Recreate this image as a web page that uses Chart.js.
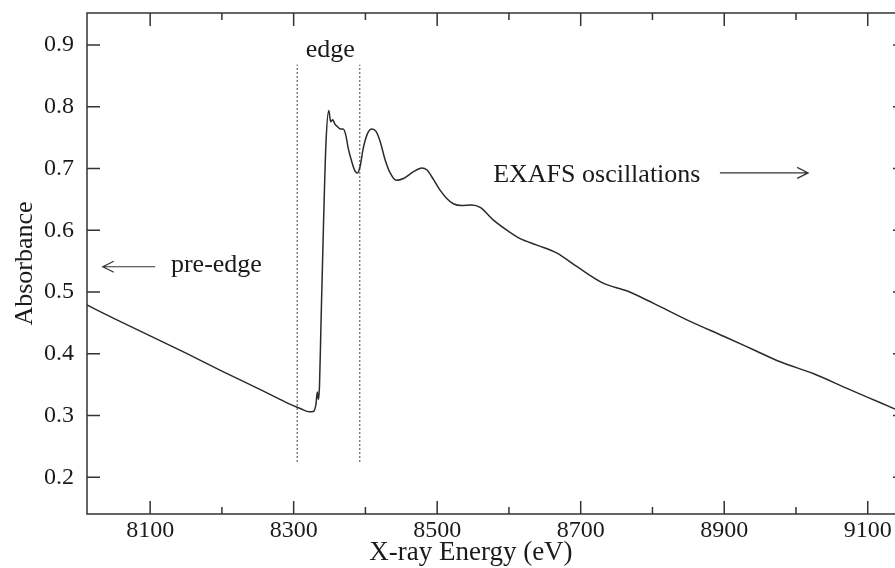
<!DOCTYPE html>
<html>
<head>
<meta charset="utf-8">
<title>X-ray absorption spectrum</title>
<script src="https://cdn.jsdelivr.net/npm/chart.js@4.4.0/dist/chart.umd.min.js"></script>
<style>
  html, body { margin: 0; padding: 0; background: #fff; }
  #wrap { width: 895px; height: 568px; }
</style>
</head>
<body>
<div id="wrap"><canvas id="xasChart" width="895" height="568"></canvas></div>
<script>
// spectrum (eV, absorbance)
const energy = [
    8012, 8050, 8100, 8150, 8200, 8250, 8290, 8310, 8322, 8328,
    8331, 8333, 8334.5, 8336, 8338, 8341.5, 8345, 8349, 8351.5, 8354.5,
    8357.5, 8362, 8365, 8369, 8372.5, 8376, 8381, 8385.5, 8389, 8392.5,
    8397, 8403, 8409, 8415, 8420.5, 8427.5, 8434.5, 8443, 8453, 8467,
    8478.5, 8485.5, 8495, 8504, 8513, 8522.5, 8534, 8548, 8560, 8578,
    8600, 8615, 8639, 8667, 8695, 8732, 8764, 8801, 8848, 8900,
    8940, 8978, 9024, 9071, 9117, 9153
];
const absorbance = [
    0.479, 0.457, 0.429, 0.401, 0.372, 0.344, 0.321, 0.311, 0.306, 0.307,
    0.318, 0.338, 0.326, 0.348, 0.444, 0.606, 0.741, 0.794, 0.776, 0.779,
    0.772, 0.767, 0.764, 0.764, 0.755, 0.733, 0.711, 0.696, 0.693, 0.703,
    0.733, 0.757, 0.764, 0.760, 0.744, 0.714, 0.693, 0.681, 0.684, 0.695,
    0.701, 0.698, 0.682, 0.665, 0.652, 0.643, 0.640, 0.641, 0.637, 0.617,
    0.598, 0.587, 0.576, 0.563, 0.541, 0.514, 0.502, 0.482, 0.455, 0.428,
    0.407, 0.387, 0.368, 0.344, 0.321, 0.303
];

const xTicks = [8100, 8200, 8300, 8400, 8500, 8600, 8700, 8800, 8900, 9000, 9100];
const xLabels = [8100, 8300, 8500, 8700, 8900, 9100];
const yTicks = [0.2, 0.3, 0.4, 0.5, 0.6, 0.7, 0.8, 0.9];

// dotted markers around the edge region
const edgeLines = [8305, 8392];
const edgeSpan = [0.225, 0.868];

const SERIF = "'Liberation Serif', 'Times New Roman', serif";

const spectrum = energy.map((e, i) => ({ x: e, y: absorbance[i] }));

function edgeDataset(e) {
    return {
        data: edgeSpan.map(v => ({ x: e, y: v })),
        borderColor: '#555',
        borderWidth: 1.5,
        borderDash: [1.5, 2.5],
        pointRadius: 0
    };
}

function arrow(ctx, x1, x2, y) {
    // shaft from x1 to x2, open head at x2
    const dir = x2 > x1 ? 1 : -1;
    ctx.beginPath();
    ctx.moveTo(x1, y);
    ctx.lineTo(x2, y);
    ctx.moveTo(x2 - dir * 11, y - 5.5);
    ctx.lineTo(x2, y);
    ctx.lineTo(x2 - dir * 11, y + 5.5);
    ctx.stroke();
}

const framePlugin = {
    id: 'frame',
    afterDraw(chart) {
        const ctx = chart.ctx;
        const a = chart.chartArea;
        const xs = chart.scales.x;
        const ys = chart.scales.y;
        const rightAxis = a.right + 11;

        ctx.save();
        ctx.strokeStyle = '#333';
        ctx.lineWidth = 1.5;
        ctx.beginPath();
        ctx.moveTo(rightAxis, a.top);
        ctx.lineTo(a.left, a.top);
        ctx.lineTo(a.left, a.bottom);
        ctx.lineTo(rightAxis, a.bottom);
        ctx.stroke();

        ctx.beginPath();
        xTicks.forEach(v => {
            const px = xs.getPixelForValue(v);
            const len = xLabels.includes(v) ? 13 : 7;
            ctx.moveTo(px, a.bottom);
            ctx.lineTo(px, a.bottom - len);
            ctx.moveTo(px, a.top);
            ctx.lineTo(px, a.top + len);
        });
        yTicks.forEach(v => {
            const py = ys.getPixelForValue(v);
            ctx.moveTo(a.left, py);
            ctx.lineTo(a.left + 13, py);
            ctx.moveTo(rightAxis, py);
            ctx.lineTo(rightAxis - 13, py);
        });
        ctx.stroke();

        // annotations
        ctx.fillStyle = '#1a1a1a';
        ctx.font = '26px ' + SERIF;
        ctx.textBaseline = 'middle';

        ctx.textAlign = 'left';
        ctx.fillText('pre-edge', xs.getPixelForValue(8129), ys.getPixelForValue(0.544));
        ctx.fillText('EXAFS oscillations', xs.getPixelForValue(8578), ys.getPixelForValue(0.690));
        ctx.textAlign = 'center';
        ctx.fillText('edge', xs.getPixelForValue(8351), ys.getPixelForValue(0.892));

        ctx.lineWidth = 1.2;
        arrow(ctx, xs.getPixelForValue(8107), xs.getPixelForValue(8034), ys.getPixelForValue(0.541));
        arrow(ctx, xs.getPixelForValue(8894), xs.getPixelForValue(9017), ys.getPixelForValue(0.693));

        // x axis title
        ctx.font = '27px ' + SERIF;
        ctx.textAlign = 'center';
        ctx.fillText('X-ray Energy (eV)', xs.getPixelForValue(8547), chart.height - 15);
        ctx.restore();
    }
};

const ctx = document.getElementById('xasChart').getContext('2d');
const xasChart = new Chart(ctx, {
    type: 'line',
    data: {
        datasets: [
            {
                data: spectrum,
                borderColor: '#2b2b2b',
                borderWidth: 1.5,
                pointRadius: 0,
                cubicInterpolationMode: 'monotone'
            },
            edgeDataset(edgeLines[0]),
            edgeDataset(edgeLines[1])
        ]
    },
    options: {
        responsive: false,
        animation: false,
        layout: { padding: { top: 13, right: 0, left: 0, bottom: 0 }, autoPadding: false },
        plugins: {
            legend: { display: false },
            tooltip: { enabled: false }
        },
        scales: {
            x: {
                type: 'linear',
                min: 8012,
                max: 9138,
                afterBuildTicks: axis => { axis.ticks = xTicks.map(v => ({ value: v })); },
                afterFit: axis => {
                    axis.height = 54;
                    axis.paddingLeft = 0;
                    axis.paddingRight = 0;
                },
                grid: { display: false, drawTicks: false },
                border: { display: false },
                ticks: {
                    autoSkip: false,
                    maxRotation: 0,
                    padding: 2,
                    color: '#1a1a1a',
                    font: { family: SERIF, size: 24 },
                    callback: v => xLabels.includes(v) ? String(v) : ''
                }
            },
            y: {
                min: 0.1405,
                max: 0.952,
                afterBuildTicks: axis => { axis.ticks = yTicks.map(v => ({ value: v })); },
                afterFit: axis => {
                    axis.width = 87;
                    axis.paddingTop = 0;
                    axis.paddingBottom = 0;
                },
                grid: { display: false, drawTicks: false },
                border: { display: false },
                ticks: {
                    padding: 13,
                    color: '#1a1a1a',
                    font: { family: SERIF, size: 24 },
                    callback: v => v.toFixed(1)
                },
                title: {
                    display: true,
                    text: 'Absorbance',
                    color: '#1a1a1a',
                    font: { family: SERIF, size: 26 },
                    padding: { top: 10, bottom: 0 }
                }
            }
        }
    },
    plugins: [framePlugin]
});
</script>
</body>
</html>
